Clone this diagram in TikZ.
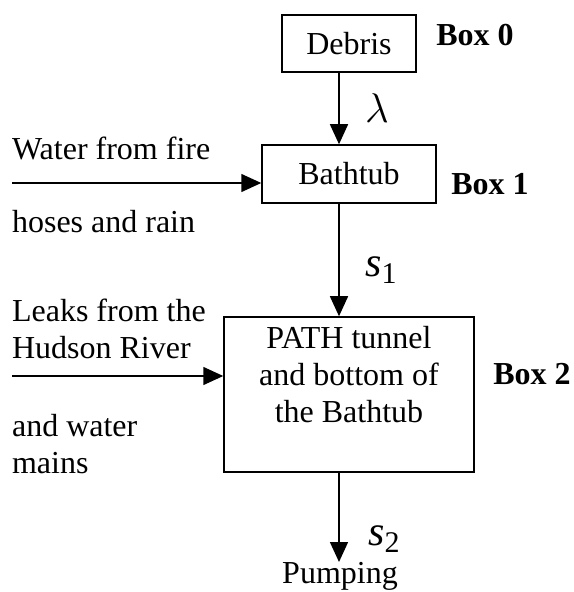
\documentclass[tikz,border=0pt]{standalone}
\usepackage{fontspec}
\setmainfont{Liberation Serif}
\usetikzlibrary{arrows.meta}

\newcommand{\ratevar}[1]{\textit{s}\raisebox{-3.5pt}{\fontsize{15}{15}\selectfont #1}}

\begin{document}
\begin{tikzpicture}[x=0.5pt, y=-0.5pt,
        every node/.style={font=\fontsize{16}{18.5}\selectfont},
        BX/.style={draw, line width=0.75pt, align=center, inner sep=0pt},
        lbl/.style={font=\fontsize{16}{18.5}\selectfont\bfseries},
        side/.style={anchor=west, align=left},
        rate/.style={font=\fontsize{21}{24}\selectfont, inner sep=1pt},
        arr/.style={-{Triangle[length=10pt,width=9pt]}, line width=0.75pt},
      ]
      \useasboundingbox (0,0) rectangle (573,592);

      % Main nodes
      \node[BX, minimum width=67pt, minimum height=28.5pt] (debris) at (349,43.5) {Debris};
      \node[BX, minimum width=87pt, minimum height=29pt]   (bath)   at (349,174) {Bathtub};
      \node[BX, minimum width=125pt, minimum height=77.5pt, text depth=20pt] (path) at (349,394.5)
        {PATH tunnel\\and bottom of\\the Bathtub};

      % Box labels
      \node[lbl] (box0) at (475,35)  {Box 0};
      \node[lbl] (box1) at (490,184) {Box 1};
      \node[lbl] (box2) at (532,374) {Box 2};

      % Inflows
      \node[side] (water) at (5,148) {Water from fire};
      \node[side] (hoses) at (5,222) {hoses and rain};
      \node[side] (leaks) at (5,329) {Leaks from the\\Hudson River};
      \node[side] (mains) at (5,444) {and water\\mains};
      \coordinate (in1) at (12,183);
      \coordinate (in2) at (12,376);

      % Arrows
      \draw[arr] ([xshift=-5pt]debris.south) -- ([xshift=-5pt]bath.north);
      \draw[arr] ([xshift=-5pt]bath.south) -- ([xshift=-5pt]path.north);
      \draw[arr] (in1) -- (bath.west |- in1);
      \draw[arr] (in2) -- (path.west |- in2);
      \coordinate (out) at (339,562);
      \draw[arr] ([xshift=-5pt]path.south) -- (out);

      % Rates
      \node[rate] (lam) at (377,108) {$\lambda$};
      \node[rate] (s1)  at (381,270) {\ratevar{1}};
      \node[rate] (s2)  at (384,539) {\ratevar{2}};
      \node (pump) at (340,576) {Pumping};

    \end{tikzpicture}
\end{document}
